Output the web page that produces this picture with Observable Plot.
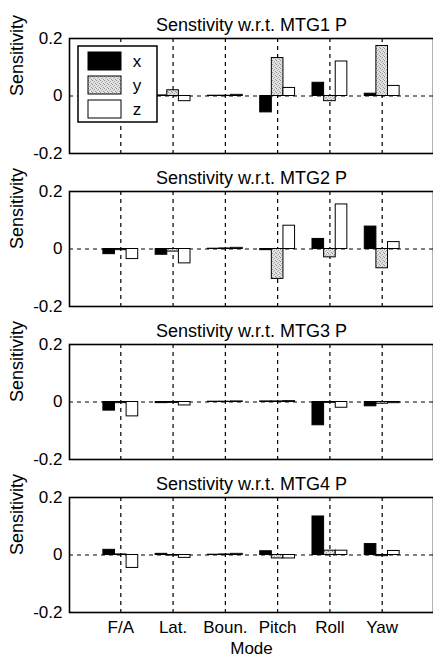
<!DOCTYPE html>
<html><head><meta charset="utf-8">
<script src="https://cdn.jsdelivr.net/npm/d3@7"></script>
<script src="https://cdn.jsdelivr.net/npm/@observablehq/plot@0.6"></script>
<style>
body{margin:0;background:#fff;}
#chart svg{display:block;}
</style></head><body>
<svg width="0" height="0" style="position:absolute">
<defs><pattern id="stipple" width="4" height="4" patternUnits="userSpaceOnUse">
<rect width="4" height="4" fill="#e2e2e2"/>
<rect x="0" y="0" width="1" height="1" fill="#8c8c8c"/>
<rect x="2" y="1" width="1" height="1" fill="#a0a0a0"/>
<rect x="3" y="3" width="1" height="1" fill="#969696"/>
<rect x="1" y="2" width="1" height="1" fill="#b0b0b0"/>
</pattern></defs></svg>
<div id="chart"></div>
<script>
const modes = ["F/A", "Lat.", "Boun.", "Pitch", "Roll", "Yaw"];
const series = ["x", "y", "z"];
const titles = ["Senstivity w.r.t. MTG1 P", "Senstivity w.r.t. MTG2 P", "Senstivity w.r.t. MTG3 P", "Senstivity w.r.t. MTG4 P"];
const yTicks = [-0.2, 0, 0.2];
const yTickLabels = ["-0.2", "0", "0.2"];
const yLabel = "Sensitivity";
const xLabel = "Mode";

// values per mode: F/A, Lat., Boun., Pitch, Roll, Yaw
const mtg1X = [0.004, 0.002, 0.001, -0.057, 0.046, 0.008];
const mtg1Y = [0.010, 0.020, 0.001, 0.132, -0.018, 0.174];
const mtg1Z = [-0.010, -0.018, 0.004, 0.028, 0.120, 0.035];

const mtg2X = [-0.018, -0.020, 0.001, -0.004, 0.035, 0.078];
const mtg2Y = [-0.004, -0.009, 0.002, -0.104, -0.029, -0.067];
const mtg2Z = [-0.035, -0.050, 0.004, 0.081, 0.155, 0.024];

const mtg3X = [-0.030, -0.004, 0.001, 0.002, -0.081, -0.015];
const mtg3Y = [-0.004, -0.003, 0.001, 0.002, -0.003, -0.006];
const mtg3Z = [-0.050, -0.012, 0.002, 0.003, -0.020, -0.004];

const mtg4X = [0.018, 0.004, 0.001, 0.013, 0.134, 0.038];
const mtg4Y = [0.002, -0.002, 0.002, -0.012, 0.015, -0.004];
const mtg4Z = [-0.045, -0.010, 0.004, -0.012, 0.015, 0.014];

const panels = [[mtg1X, mtg1Y, mtg1Z], [mtg2X, mtg2Y, mtg2Z], [mtg3X, mtg3Y, mtg3Z], [mtg4X, mtg4Y, mtg4Z]];

const seriesFill = {x: "black", y: "url(#stipple)", z: "white"};

const W = 433, mL = 69, mR = 0, mT = 38, plotH = 115;
const pIn = 1/3, pOut = 0.648;
const step = (W - mL - mR) / (modes.length - pIn + 2 * pOut);
const bw = step * (1 - pIn);
const font = "'Liberation Sans', Arial, Helvetica, sans-serif";

function makePanel(pi, last) {
  const vals = panels[pi];
  const data = modes.flatMap((m, j) => series.map((s, k) => ({mode: m, series: s, value: vals[k][j]})));
  const mB = last ? 48 : 0;
  const marks = [
    Plot.ruleX(modes, {x: d => d, stroke: "black", strokeDasharray: "4,4", strokeWidth: 1.2}),
    Plot.ruleY([0], {stroke: "black", strokeDasharray: "4,4", strokeWidth: 1.2}),
    ...series.map((s, k) => Plot.barY(data.filter(d => d.series === s), {
      x: "mode", y: "value", fill: seriesFill[s], stroke: "black", strokeWidth: 1,
      insetLeft: k * bw / 3, insetRight: (2 - k) * bw / 3
    })),
    Plot.frame({stroke: "black", strokeWidth: 1.6}),
    Plot.text([titles[pi]], {frameAnchor: "top", dy: -20, fontSize: 18, text: d => d}),
    Plot.text([yLabel], {frameAnchor: "left", dx: -52, rotate: -90, fontSize: 18, text: d => d})
  ];
  if (last) marks.push(Plot.text([xLabel], {frameAnchor: "bottom", dy: 41, fontSize: 17, text: d => d}));
  const svg = Plot.plot({
    width: W, height: mT + plotH + mB,
    marginLeft: mL, marginRight: mR, marginTop: mT, marginBottom: mB,
    style: {fontFamily: font, fontSize: "17px", color: "black", background: "white", overflow: "visible"},
    x: {type: "band", domain: modes, paddingInner: pIn, paddingOuter: pOut, round: false,
        axis: last ? "bottom" : null, tickSize: 0, tickPadding: 8, label: null},
    y: {domain: [-0.2, 0.2], ticks: yTicks, tickFormat: v => yTickLabels[yTicks.indexOf(v)] ?? String(v),
        tickSize: 0, tickPadding: 7, label: null},
    marks
  });
  return svg;
}

const chart = document.getElementById("chart");
panels.forEach((p, i) => {
  const svg = makePanel(i, i === panels.length - 1);
  chart.appendChild(svg);
  if (i === 0) {
    const s = d3.select(svg);
    const lx = mL + 9, ly = mT + 8;
    const g = s.append("g").attr("font-family", font).attr("font-size", 17);
    g.append("rect").attr("x", lx).attr("y", ly).attr("width", 79).attr("height", 76)
      .attr("fill", "white").attr("stroke", "black").attr("stroke-width", 1.5);
    series.forEach((name, k) => {
      g.append("rect").attr("x", lx + 10).attr("y", ly + 6 + k * 24).attr("width", 33).attr("height", 18)
        .attr("fill", seriesFill[name]).attr("stroke", "black").attr("stroke-width", 1);
      g.append("text").attr("x", lx + 59).attr("y", ly + 15 + k * 24).attr("dy", "0.35em")
        .attr("text-anchor", "middle").attr("fill", "black").text(name);
    });
  }
});
</script>
</body></html>
